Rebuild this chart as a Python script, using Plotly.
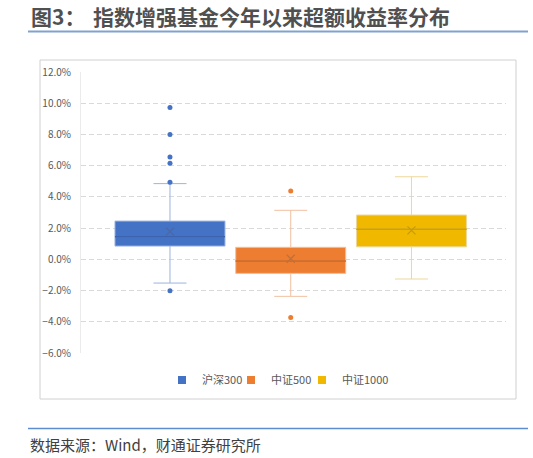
import plotly.graph_objects as go

W, H = 533, 458

categories = ["沪深300", "中证500", "中证1000"]
q1_vals = [0.0085, -0.0090, 0.0080]
median_vals = [0.0145, -0.0011, 0.0193]
q3_vals = [0.0245, 0.0077, 0.0284]
lower_vals = [-0.0152, -0.0237, -0.0126]
upper_vals = [0.0485, 0.0314, 0.0529]
mean_vals = [0.0177, 0.0004, 0.0185]
outliers = [
    [0.0972, 0.0799, 0.0656, 0.0615, 0.0494, -0.0201],
    [0.0438, -0.0372],
    [],
]
y_ticks = [-0.06, -0.04, -0.02, 0.0, 0.02, 0.04, 0.06, 0.08, 0.10, 0.12]

fill_colors = ["#4472C4", "#ED7D31", "#F0B900"]
whisker_colors = ["#9DB3E0", "#F0C0A0", "#EDD79A"]
median_colors = ["#3D63AE", "#CF6A27", "#D2A000"]
mean_colors = ["#4A68A8", "#C0703A", "#C49A10"]
legend_ids = ["legend", "legend2", "legend3"]
legend_left_px = [162, 231, 302]

FONT = "Noto Sans CJK SC"

fig = go.Figure()

for i, cat in enumerate(categories):
    fig.add_trace(go.Box(
        x=[cat], q1=[q1_vals[i]], median=[median_vals[i]], q3=[q3_vals[i]],
        lowerfence=[lower_vals[i]], upperfence=[upper_vals[i]],
        boxpoints=False, fillcolor=fill_colors[i],
        line=dict(color=whisker_colors[i], width=1),
        whiskerwidth=0.3, showlegend=False, hoverinfo="skip",
    ))
    fig.add_trace(go.Box(
        x=[cat], q1=[median_vals[i]], median=[median_vals[i]], q3=[median_vals[i]],
        lowerfence=[median_vals[i]], upperfence=[median_vals[i]],
        boxpoints=False, fillcolor="rgba(0,0,0,0)",
        line=dict(color=median_colors[i], width=1),
        whiskerwidth=0, showlegend=False, hoverinfo="skip",
    ))
    fig.add_trace(go.Scatter(
        x=[cat], y=[mean_vals[i]], mode="markers",
        marker=dict(symbol="x-thin", size=8, line=dict(color=mean_colors[i], width=1.2)),
        showlegend=False, hoverinfo="skip",
    ))
    if outliers[i]:
        fig.add_trace(go.Scatter(
            x=[cat] * len(outliers[i]), y=outliers[i], mode="markers",
            marker=dict(symbol="circle", size=5, color=fill_colors[i]),
            showlegend=False, hoverinfo="skip",
        ))

for i, cat in enumerate(categories):
    fig.add_trace(go.Scatter(
        x=[None], y=[None], mode="markers", name=cat, legend=legend_ids[i],
        marker=dict(symbol="square", size=8, color=fill_colors[i]),
    ))

def px(x):
    return x / W

def py(y):
    return 1 - y / H

shapes = [
    dict(type="rect", xref="paper", yref="paper", x0=px(40), x1=px(516), y0=py(399), y1=py(60),
         line=dict(color="#D0D0D0", width=1), fillcolor="rgba(0,0,0,0)", layer="below"),
    dict(type="line", xref="paper", yref="paper", x0=px(28), x1=px(528), y0=py(31.5), y1=py(31.5),
         line=dict(color="#7FA3CF", width=2)),
    dict(type="line", xref="paper", yref="paper", x0=px(28), x1=px(528), y0=py(428.5), y1=py(428.5),
         line=dict(color="#5B8ED0", width=1.5)),
]

annotations = [
    dict(text="<b>图3：</b>", xref="paper", yref="paper", x=px(29), y=py(16), xanchor="left",
         yanchor="middle", showarrow=False, font=dict(family=FONT, size=21, color="#505050")),
    dict(text="<b>指数增强基金今年以来超额收益率分布</b>", xref="paper", yref="paper", x=px(91), y=py(16),
         xanchor="left", yanchor="middle", showarrow=False,
         font=dict(family=FONT, size=21, color="#505050")),
    dict(text="数据来源：Wind，财通证券研究所", xref="paper", yref="paper", x=px(28), y=py(444),
         xanchor="left", yanchor="middle", showarrow=False,
         font=dict(family=FONT, size=15, color="#404040")),
]

legend_style = dict(orientation="h", xanchor="left", y=py(380), yanchor="middle",
                    font=dict(family=FONT, size=11, color="#595959"), itemwidth=30,
                    bgcolor="rgba(0,0,0,0)", borderwidth=0)

fig.update_layout(
    width=W, height=H,
    margin=dict(l=0, r=0, t=0, b=0, pad=0, autoexpand=False),
    paper_bgcolor="white", plot_bgcolor="white",
    boxmode="overlay", boxgap=0.089, boxgroupgap=0,
    shapes=shapes, annotations=annotations,
    font=dict(family=FONT, color="#595959"),
    legend=dict(x=px(legend_left_px[0]), **legend_style),
    legend2=dict(x=px(legend_left_px[1]), **legend_style),
    legend3=dict(x=px(legend_left_px[2]), **legend_style),
    xaxis=dict(domain=[px(81), px(506)], type="category", categoryorder="array",
               categoryarray=categories, range=[-0.737, 2.783], automargin=False,
               showticklabels=False, showgrid=False, zeroline=False, showline=False),
    yaxis=dict(domain=[py(353), py(72)], range=[-0.06, 0.12], tickvals=y_ticks,
               tickformat=".1%", tickfont=dict(size=10, color="#595959"), automargin=False,
               showgrid=True, gridcolor="#D9D9D9", griddash="5px,3px", gridwidth=1,
               zeroline=False, showline=True, linecolor="#EBEBEB", linewidth=1,
               ticks="", ticklabelstandoff=7),
)

fig.write_html("out.html", config={"displayModeBar": False},
               post_script="document.body.style.margin='0';")
